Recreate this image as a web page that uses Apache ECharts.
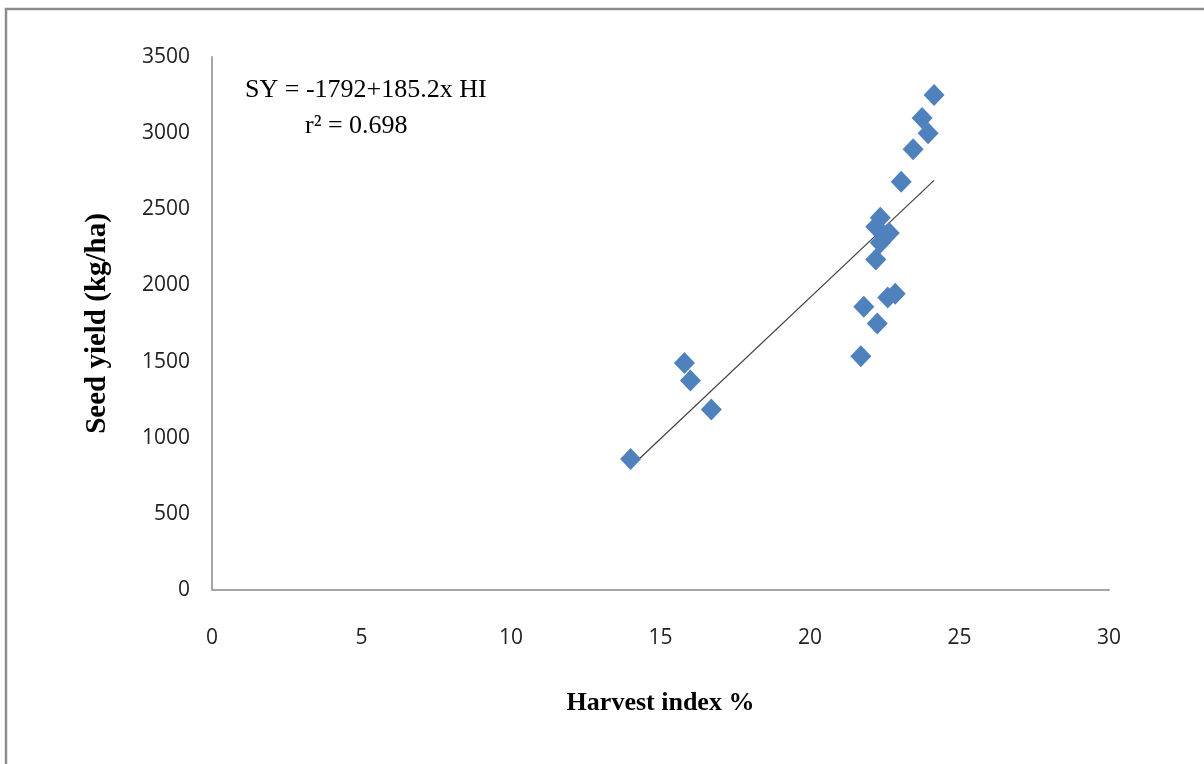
<!DOCTYPE html>
<html>
<head>
<meta charset="utf-8">
<script src="https://cdn.jsdelivr.net/npm/echarts@6/dist/echarts.min.js"></script>
<style>
  html, body { margin: 0; padding: 0; background: #fff; }
  #chart { width: 1204px; height: 764px; }
</style>
</head>
<body>
<div id="chart"></div>
<script>
// 收获指数 (%)
var harvestIndex = [14.0, 15.8, 16.0, 16.7, 21.7, 21.8, 22.25, 22.2, 22.35, 22.2, 22.35, 22.65, 22.6, 22.85, 23.05, 23.45, 23.75, 23.95, 24.15];
// 种子产量 (kg/ha)
var seedYield = [860, 1490, 1375, 1185, 1535, 1860, 1750, 2170, 2280, 2385, 2445, 2345, 1920, 1945, 2680, 2895, 3100, 3000, 3250];
// 趋势线两端
var trendX = [14.0, 24.15];
var trendY = [808, 2690];

var xTicks = [0, 5, 10, 15, 20, 25, 30];
var yTicks = [0, 500, 1000, 1500, 2000, 2500, 3000, 3500];

var points = harvestIndex.map(function (x, i) { return [x, seedYield[i]]; });
var trend = trendX.map(function (x, i) { return [x, trendY[i]]; });

var chart = echarts.init(document.getElementById('chart'));
chart.setOption({
  animation: false,
  grid: { left: 212, top: 57, right: 95, bottom: 174 },
  xAxis: {
    type: 'value',
    min: xTicks[0],
    max: xTicks[xTicks.length - 1],
    interval: 5,
    name: 'Harvest index %',
    nameLocation: 'middle',
    nameGap: 100,
    nameTextStyle: { fontFamily: 'Liberation Serif', fontWeight: 'bold', fontSize: 26, color: '#000' },
    axisLine: { lineStyle: { color: '#a6a6a6', width: 2 } },
    axisTick: { show: false },
    splitLine: { show: false },
    axisLabel: { fontFamily: 'Open Sans', fontSize: 21, color: '#222', margin: 38, formatter: function (v) { return String(v); } }
  },
  yAxis: {
    type: 'value',
    min: yTicks[0],
    max: yTicks[yTicks.length - 1],
    interval: 500,
    name: 'Seed yield (kg/ha)',
    nameLocation: 'middle',
    nameGap: 100,
    nameRotate: 90,
    nameTextStyle: { fontFamily: 'Liberation Serif', fontWeight: 'bold', fontSize: 29, color: '#000' },
    axisLine: { show: true, lineStyle: { color: '#a6a6a6', width: 2 } },
    axisTick: { show: false },
    splitLine: { show: false },
    axisLabel: { fontFamily: 'Open Sans', fontSize: 21, color: '#222', margin: 22, formatter: function (v) { return String(v); } }
  },
  graphic: [
    {
      type: 'rect', silent: true,
      shape: { x: 6, y: 9, width: 1400, height: 900 },
      style: { fill: 'none', stroke: '#8c8c8c', lineWidth: 2.5 }
    },
    {
      type: 'text', left: 245, top: 77,
      style: { text: 'SY = -1792+185.2x HI', font: '26px "Liberation Serif"', fill: '#000' }
    },
    {
      type: 'text', left: 305, top: 113,
      style: { text: 'r² = 0.698', font: '26px "Liberation Serif"', fill: '#000' }
    }
  ],
  series: [
    {
      type: 'scatter',
      data: points,
      symbol: 'diamond',
      symbolSize: [21, 22],
      itemStyle: { color: '#4f81bd', opacity: 1 },
      z: 3
    },
    {
      type: 'line',
      data: trend,
      symbol: 'none',
      lineStyle: { color: '#404040', width: 1.2 },
      z: 2
    }
  ]
});
</script>
</body>
</html>
